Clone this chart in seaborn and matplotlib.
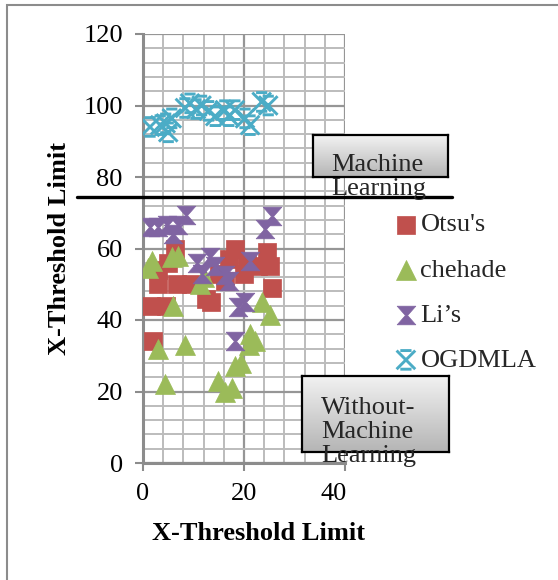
import numpy as np
import pandas as pd
import matplotlib
matplotlib.use("Agg")
import matplotlib.pyplot as plt
import seaborn as sns
from matplotlib.path import Path
from matplotlib.patches import Rectangle
from matplotlib.lines import Line2D
from matplotlib.ticker import MultipleLocator
from matplotlib.transforms import ScaledTranslation

# ---- data ----
otsu_x = [1.5, 2, 3, 3, 4.5, 5, 6.3, 6.7, 9.5, 12.5, 13.5, 15, 16.2, 17, 18.2, 20, 20.5, 22.8, 24.5, 25.2, 25.5]
otsu_y = [44, 34, 50, 54, 44, 56, 60, 50, 50, 46, 45, 53, 51, 57, 60, 53, 56, 55, 59, 55, 49]

chehade_x = [1, 1.7, 3, 4.4, 5.7, 6, 7, 8.3, 11.3, 12, 14.9, 16.2, 17.6, 18.2, 19.5, 20.9, 21.2, 22.2, 23.5, 25.1]
chehade_y = [54.5, 56.5, 32, 22, 57.5, 44, 58, 33, 50, 52, 23, 20, 21, 27, 28, 33, 36, 34, 45, 41.5]

li_x = [1.4, 3, 4.7, 6, 7, 8.6, 10.6, 11.6, 13.3, 14.3, 16.2, 17, 18.2, 18.9, 20.2, 21.2, 24.2, 25.5]
li_y = [66, 66, 66.5, 64, 66.5, 69.5, 56, 53, 57.5, 55, 52.5, 51, 34, 43.5, 45, 56.5, 65.5, 69]

ogdmla_x = [1.4, 3.4, 4.5, 5.0, 5.7, 8.3, 9.3, 10.5, 11.6, 13, 14.3, 16.2, 17, 18.2, 20.2, 21.2, 23.5, 24.8]
ogdmla_y = [94, 94.5, 95, 92.5, 96.4, 99.3, 100.6, 99, 100, 98.5, 97, 98.7, 97, 98.7, 96.4, 94.5, 101, 100]

series_names = ["Otsu's", "chehade", "Li\u2019s", "OGDMLA"]
x_ticks = [0, 20, 40]
y_ticks = [0, 20, 40, 60, 80, 100, 120]
threshold_y = 74.4
x_label = "X-Threshold Limit"
y_label = "X-Threshold Limit"
box1_text = "Machine\nLearning"
box2_text = "Without-\nMachine\nLearning"

# ---- style ----
sns.set_theme(style="white")
plt.rcParams['font.family'] = ['Liberation Serif', 'DejaVu Serif']
FS = 19

W, H = 558, 580
fig = plt.figure(figsize=(W / 100, H / 100), dpi=100)
fig.patch.set_facecolor("white")

def fx(px):
    return px / W

def fy(py):
    return 1 - py / H

ax = fig.add_axes([fx(143), fy(463), fx(345) - fx(143), fy(34) - fy(463)])
ax.set_facecolor("white")

colors = ["#C0504D", "#9BBB59", "#8064A2", "#4BACC6"]

hourglass = Path([(-1, 1), (1, 1), (0.12, 0), (1, -1), (-1, -1), (-0.12, 0), (-1, 1)],
                 [Path.MOVETO, Path.LINETO, Path.LINETO, Path.LINETO, Path.LINETO, Path.LINETO, Path.CLOSEPOLY])
xstar = Path([(-1, 1), (1, -1), (1, 1), (-1, -1), (-0.6, 1), (0.6, 1), (-0.6, -1), (0.6, -1)],
             [Path.MOVETO, Path.LINETO, Path.MOVETO, Path.LINETO,
              Path.MOVETO, Path.LINETO, Path.MOVETO, Path.LINETO])

S = 180
df_o = pd.DataFrame({"x": otsu_x, "y": otsu_y})
df_c = pd.DataFrame({"x": chehade_x, "y": chehade_y})
df_l = pd.DataFrame({"x": li_x, "y": li_y})
df_g = pd.DataFrame({"x": ogdmla_x, "y": ogdmla_y})

sns.scatterplot(data=df_o, x="x", y="y", ax=ax, marker="s", s=S, color=colors[0],
                edgecolor=colors[0], linewidth=0.5, label=series_names[0], zorder=3)
sns.scatterplot(data=df_c, x="x", y="y", ax=ax, marker="^", s=S * 1.15, color=colors[1],
                edgecolor=colors[1], linewidth=0.5, label=series_names[1], zorder=3)
sns.scatterplot(data=df_l, x="x", y="y", ax=ax, marker=hourglass, s=S, color=colors[2],
                edgecolor=colors[2], linewidth=0.5, label=series_names[2], zorder=3)
sns.scatterplot(data=df_g, x="x", y="y", ax=ax, marker=xstar, s=S, color=colors[3],
                edgecolor=colors[3], facecolor="none", linewidth=2.1,
                label=series_names[3], zorder=3)

ax.set_xlim(0, 40)
ax.set_ylim(0, 120)
ax.xaxis.set_minor_locator(MultipleLocator(4))
ax.yaxis.set_minor_locator(MultipleLocator(4))
ax.set_xticks(x_ticks)
ax.set_yticks(y_ticks)
ax.grid(True, which="minor", color="#bcbcbc", linewidth=1.4, zorder=0)
ax.grid(True, which="major", color="#969696", linewidth=1.6, zorder=0)
ax.set_axisbelow(True)
for side in ["top", "right"]:
    ax.spines[side].set_visible(False)
for side in ["left", "bottom"]:
    ax.spines[side].set_color("#8c8c8c")
    ax.spines[side].set_linewidth(2.2)
ax.tick_params(which="major", direction="out", length=5.5, width=1.5, color="#8c8c8c",
               labelsize=FS, pad=9, left=True, bottom=True)
ax.tick_params(which="minor", length=0)
for lab in ax.get_xticklabels() + ax.get_yticklabels():
    lab.set_color("black")

ax.set_xlabel(x_label, fontsize=FS, fontweight="bold", color="black")
ax.set_ylabel(y_label, fontsize=FS, fontweight="bold", color="black")
ax.xaxis.set_label_coords((258 - 143) / (345 - 143), -(533 - 463) / (463 - 34))
ax.yaxis.set_label_coords(-(143 - 60) / (345 - 143), 0.5)
ax.xaxis.label.set_verticalalignment("center")
ax.yaxis.label.set_verticalalignment("center")

# the last x tick label sits slightly inside the plot edge, as in the original
fig.canvas.draw()
last_tick = ax.xaxis.get_major_ticks()[-1]
last_tick.label1.set_transform(last_tick.label1.get_transform()
                               + ScaledTranslation(-11 / 100, 0, fig.dpi_scale_trans))

# legend
handles, labels = ax.get_legend_handles_labels()
ax.legend_.remove()
leg = fig.legend(handles, labels, loc="upper left", bbox_to_anchor=(fx(398), fy(213)),
                 frameon=False, fontsize=FS, labelspacing=0.82, handlelength=0.6,
                 handletextpad=0.25, borderaxespad=0, borderpad=0)

# horizontal threshold line
y_line_fig = fy(463 - threshold_y * (463 - 34) / 120)
fig.add_artist(Line2D([fx(77), fx(452)], [y_line_fig, y_line_fig], color="black",
                      linewidth=2.4, transform=fig.transFigure, zorder=5))

# gradient boxes
grad = np.linspace(0, 1, 64).reshape(-1, 1)
cmap = matplotlib.colors.LinearSegmentedColormap.from_list("g", ["#f2f2f2", "#b5b5b5"])

def gbox(x0, y0, x1, y1):
    bax = fig.add_axes([fx(x0), fy(y1), fx(x1) - fx(x0), fy(y0) - fy(y1)], zorder=2)
    bax.imshow(grad, aspect="auto", cmap=cmap, vmin=0, vmax=1, extent=[0, 1, 0, 1],
               origin="upper", interpolation="bilinear")
    bax.set_xticks([])
    bax.set_yticks([])
    for sp in bax.spines.values():
        sp.set_color("black")
        sp.set_linewidth(1.6)
        sp.set_visible(True)
    return bax

gbox(313, 135, 448, 177)
gbox(302, 376, 449, 452)

fig.text(fx(331), fy(177), box1_text, fontsize=FS, ha="left", va="center",
         linespacing=1.12, zorder=10)
fig.text(fx(321), fy(432), box2_text, fontsize=FS, ha="left", va="center",
         linespacing=1.12, zorder=10)

# outer border
fig.add_artist(Rectangle((fx(7), -0.1), 1.2, fy(5) + 0.1, transform=fig.transFigure,
                         fill=False, edgecolor="#8c8c8c", linewidth=1.5, zorder=0))

fig.savefig("out.png", dpi=100, facecolor="white")
